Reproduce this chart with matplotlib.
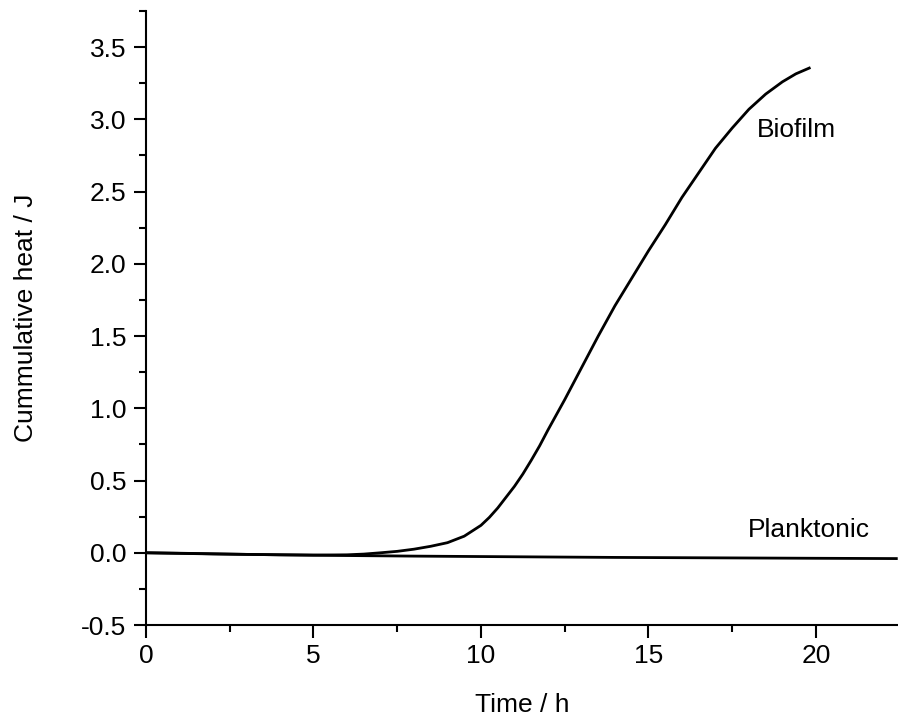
import matplotlib
matplotlib.use("Agg")
import matplotlib.pyplot as plt
from matplotlib.ticker import MultipleLocator, FormatStrFormatter

plt.rcParams['font.family'] = ['Liberation Sans', 'DejaVu Sans']

# Data
bio_t = [0, 1, 2, 3, 4, 5, 6, 6.5, 7, 7.5, 8, 8.5, 9, 9.5, 10, 10.25, 10.5, 10.75, 11, 11.25, 11.5,
         11.75, 12, 12.5, 13, 13.5, 14, 14.5, 15, 15.5, 16, 16.5, 17,
         17.5, 18, 18.5, 19, 19.4, 19.8]
bio_q = [0.0, -0.003, -0.007, -0.011, -0.014, -0.016, -0.014, -0.009, 0.0, 0.01, 0.025, 0.045, 0.07,
         0.115, 0.19, 0.245, 0.31, 0.385, 0.46, 0.545, 0.64, 0.74, 0.85, 1.06, 1.28, 1.50,
         1.71, 1.90, 2.09, 2.27, 2.46, 2.63, 2.80, 2.94, 3.07, 3.175, 3.26, 3.315, 3.355]
plank_t = [0, 2, 4, 6, 8, 10, 12, 14, 16, 18, 20, 22.4]
plank_q = [0.0, -0.008, -0.014, -0.019, -0.023, -0.026, -0.029, -0.032, -0.034, -0.036, -0.038, -0.04]

FS = 19

fig = plt.figure(figsize=(8.98, 7.24), dpi=100)
ax = fig.add_axes([0.1626, 0.1367, 0.8374, 0.8481])

ax.plot(bio_t, bio_q, color='black', lw=2, solid_joinstyle='round')
ax.plot(plank_t, plank_q, color='black', lw=2)

ax.set_xlim(0, 22.45)
ax.set_ylim(-0.5, 3.75)
ax.xaxis.set_major_locator(MultipleLocator(5))
ax.xaxis.set_minor_locator(MultipleLocator(2.5))
ax.yaxis.set_major_locator(MultipleLocator(0.5))
ax.yaxis.set_minor_locator(MultipleLocator(0.25))
ax.yaxis.set_major_formatter(FormatStrFormatter('%.1f'))

for s in ['top', 'right']:
    ax.spines[s].set_visible(False)
for s in ['left', 'bottom']:
    ax.spines[s].set_linewidth(1.5)
ax.tick_params(which='major', direction='out', length=9, width=1.5, labelsize=FS, pad=5)
ax.tick_params(which='minor', direction='out', length=5, width=1.5)

ax.set_xlabel('Time / h', fontsize=FS, labelpad=18)
ax.set_ylabel('Cummulative heat / J', fontsize=FS, labelpad=31)

ax.text(19.43, 2.926, 'Biofilm', fontsize=FS, ha='center', va='center')
ax.text(19.8, 0.16, 'Planktonic', fontsize=FS, ha='center', va='center')

fig.savefig('out.png', dpi=100)
